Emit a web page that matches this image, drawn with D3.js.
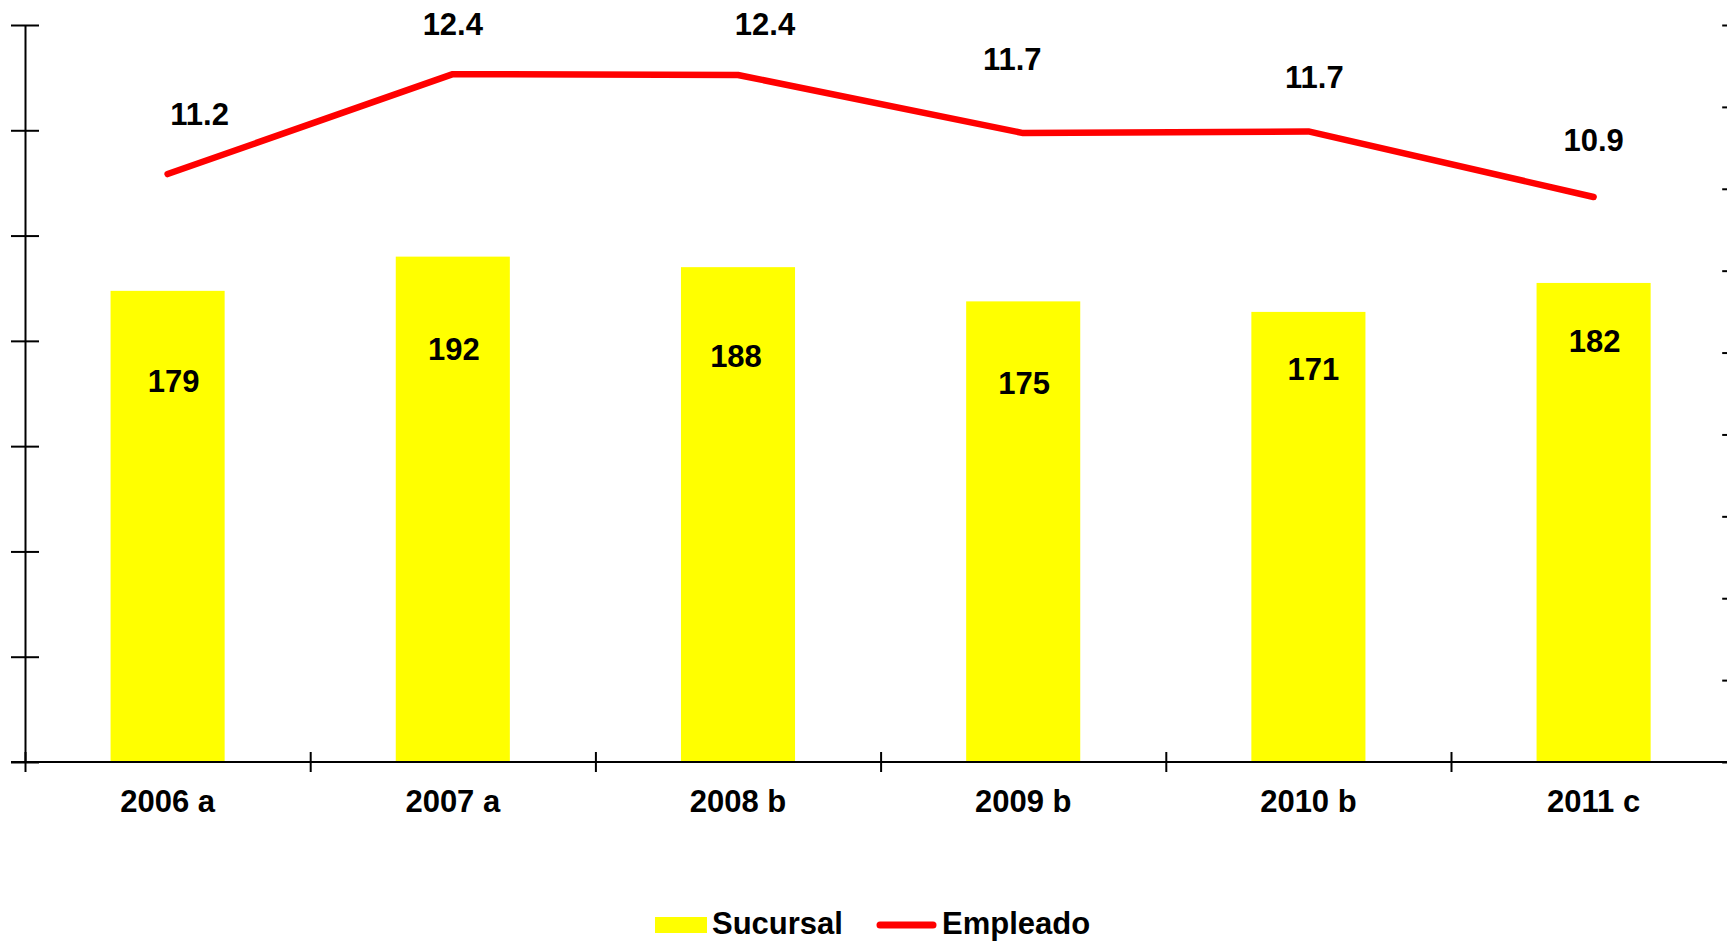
<!DOCTYPE html>
<html>
<head>
<meta charset="utf-8">
<script src="https://cdn.jsdelivr.net/npm/d3@7"></script>
<style>
  body { margin: 0; background: #fff; }
  text { font-family: "Liberation Sans", Arial, sans-serif; font-weight: bold; fill: #000; }
</style>
</head>
<body>
<script>
// data
var years = ["2006 a", "2007 a", "2008 b", "2009 b", "2010 b", "2011 c"];
var sucursal = [179, 192, 188, 175, 171, 182];
var empleado = [11.18, 12.40, 12.39, 11.68, 11.70, 10.90];

// hand-placed label nudges [dx, dy], like the original sheet
var barLabelNudge = [[6, 90], [1, 93], [-2, 89], [1, 82], [5, 57], [1, 58]];
var lineLabelNudge = [[32, -60], [0, -50], [27, -51], [-11, -74], [6, -54], [0, -57]];

(function() {

    var W = 1727, H = 941;
    var margin = {left: 25, top: 25, bottom: 762},
        step = 285.2,
        right = margin.left + years.length * step;   // runs past the window edge

    var svg = d3.select("body").append("svg")
        .attr("width", W)
        .attr("height", H);

    var x = d3.scaleBand()
        .domain(years)
        .range([margin.left, right])
        .paddingInner(0.6)
        .paddingOuter(0.3);

    var xEdge = d3.scaleLinear()
        .domain([0, years.length])
        .range([margin.left, right]);

    var yL = d3.scaleLinear().domain([0, 280]).range([margin.bottom, margin.top]);
    var yR = d3.scaleLinear().domain([4, 13]).range([margin.bottom, margin.top]);

    // bars
    svg.append("g")
        .selectAll("rect")
        .data(sucursal)
        .enter().append("rect")
            .attr("x", function(d, i) { return x(years[i]); })
            .attr("y", function(d) { return yL(d); })
            .attr("width", x.bandwidth())
            .attr("height", function(d) { return yL(0) - yL(d); })
            .attr("fill", "#ffff00");

    // axes
    var gLeft = svg.append("g")
        .attr("transform", "translate(" + margin.left + ",0)")
        .call(d3.axisLeft(yL).tickValues(d3.range(0, 281, 40)).tickSize(14).tickSizeOuter(0).tickFormat(""));
    gLeft.selectAll(".tick line").attr("x1", 14);

    var gRight = svg.append("g")
        .attr("transform", "translate(" + right + ",0)")
        .call(d3.axisRight(yR).tickValues(d3.range(4, 14)).tickSize(14).tickSizeOuter(0).tickFormat(""));
    gRight.selectAll(".tick line").attr("x1", -14);

    var gBottom = svg.append("g")
        .attr("transform", "translate(0," + margin.bottom + ")")
        .call(d3.axisBottom(xEdge).tickValues(d3.range(0, years.length + 1)).tickSize(10).tickSizeOuter(0).tickFormat(""));
    gBottom.selectAll(".tick line").attr("y1", -10);
    // horizontal axis starts at the left tick's outer end
    gBottom.select(".domain").attr("d", "M" + (margin.left - 14) + ",0H" + right);

    svg.selectAll(".domain, .tick line")
        .attr("stroke", "#000")
        .attr("stroke-width", 2);

    var gLabels = svg.append("g")
        .attr("transform", "translate(0," + margin.bottom + ")")
        .call(d3.axisBottom(x).tickSize(0).tickPadding(28));
    gLabels.select(".domain").remove();
    gLabels.selectAll("text")
        .attr("font-size", 31)
        .attr("font-family", "Liberation Sans, Arial, sans-serif")
        .attr("fill", "#000");

    // line
    var cx = function(i) { return x(years[i]) + x.bandwidth() / 2; };

    var line = d3.line()
        .x(function(d, i) { return cx(i); })
        .y(function(d) { return yR(d); });

    svg.append("path")
        .datum(empleado)
        .attr("d", line)
        .attr("fill", "none")
        .attr("stroke", "#ff0000")
        .attr("stroke-width", 6.5)
        .attr("stroke-linecap", "round")
        .attr("stroke-linejoin", "round");

    // value labels
    svg.append("g")
        .selectAll("text")
        .data(sucursal)
        .enter().append("text")
            .attr("x", function(d, i) { return cx(i) + barLabelNudge[i][0]; })
            .attr("y", function(d, i) { return yL(d) + barLabelNudge[i][1]; })
            .attr("dy", "0.35em")
            .attr("text-anchor", "middle")
            .attr("font-size", 31)
            .text(function(d) { return d; });

    svg.append("g")
        .selectAll("text")
        .data(empleado)
        .enter().append("text")
            .attr("x", function(d, i) { return cx(i) + lineLabelNudge[i][0]; })
            .attr("y", function(d, i) { return yR(d) + lineLabelNudge[i][1]; })
            .attr("dy", "0.35em")
            .attr("text-anchor", "middle")
            .attr("font-size", 31)
            .text(function(d) { return d.toFixed(1); });

    // legend
    var legend = svg.append("g").attr("transform", "translate(655,934)");
    legend.append("rect")
        .attr("x", 0).attr("y", -17)
        .attr("width", 52).attr("height", 16)
        .attr("fill", "#ffff00");
    legend.append("text")
        .attr("x", 57).attr("y", 0)
        .attr("font-size", 31)
        .text("Sucursal");
    legend.append("line")
        .attr("x1", 225).attr("x2", 278)
        .attr("y1", -9).attr("y2", -9)
        .attr("stroke", "#ff0000")
        .attr("stroke-width", 7)
        .attr("stroke-linecap", "round");
    legend.append("text")
        .attr("x", 287).attr("y", 0)
        .attr("font-size", 31)
        .text("Empleado");
})();
</script>
</body>
</html>
